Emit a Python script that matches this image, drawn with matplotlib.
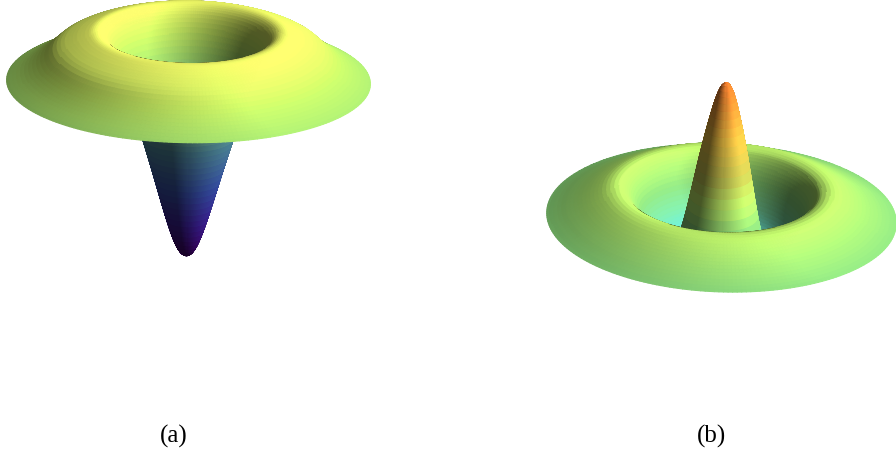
import numpy as np
import matplotlib
matplotlib.use("Agg")
import matplotlib.pyplot as plt
from matplotlib.colors import LinearSegmentedColormap

plt.rcParams['font.family'] = ['Liberation Serif']

#--------------- Data (radial profiles, image pixels) ---------------------
r_a = [0, 2, 4, 6, 8, 10, 12, 14, 16, 18, 20, 22, 24, 26, 28, 30, 32, 34, 36, 38, 40, 42, 44, 46, 48, 50,
       52, 54, 56, 58, 60, 62, 64, 66, 68, 70, 72, 74, 76, 78, 80, 82, 84, 86, 88, 90, 92, 94, 96, 98, 100,
       104, 108, 112, 116, 120, 124, 128, 132, 136, 140, 144, 148, 152, 156, 160, 164, 168, 172, 176, 180, 182]
z_a = [-184, -183.6, -182.4, -180.4, -177.6, -174, -169.6, -164.6, -159, -153, -146.6, -140, -133.2, -126.4,
       -119.4, -112.4, -105.4, -98.4, -91.4, -84.6, -77.8, -71, -64.4, -57.8, -51.2, -44.6,
       -38, -31.4, -24.8, -18, -11.2, -4.6, 2, 8.4, 14.6, 20.6, 26.2, 31.4, 36, 40, 43.4, 46, 48, 49.6,
       50.7, 51.4, 51.7, 51.8, 51.6, 51.2, 50.6,
       49.2, 47.8, 46.3, 44.6, 43, 41.2, 39, 36.5, 33, 29, 25.3, 21.8, 18.6, 15.6, 12.8, 10.2, 7.8, 5.5, 3.3, 1.1, 0]

r_b = [0, 2, 4, 6, 8, 10, 12, 14, 16, 18, 20, 22, 24, 26, 28, 30, 32, 34, 36, 38, 40, 42, 44, 46, 48, 50,
       52, 54, 56, 58, 60, 62, 64, 66, 68, 70, 72, 74, 76, 78, 80, 82, 84, 86, 88, 90, 92, 94, 96, 98, 100,
       104, 108, 112, 116, 120, 124, 128, 132, 136, 140, 144, 148, 152, 156, 160, 164, 168, 172, 175]
z_b = [149, 148.3, 146.1, 142.4, 137.4, 131, 123.6, 115.2, 106.6, 97.6, 88, 78, 68, 57, 46, 35, 24, 13, 3, -6.5,
       -14.5, -21, -26, -30, -33, -35,
       -36, -36.5, -36.2, -35.4, -34.2, -32.6, -30.6, -28.2, -25.4, -22.2, -18.6, -14.6, -10.4, -6, -1.5,
       3, 7.6, 12, 16, 19.6, 22.8, 25.6, 28, 29.4, 30.2,
       31, 30.8, 30, 28.6, 26.8, 24.8, 22.8, 20.7, 18.6, 16.5, 14.4, 12.4, 10.4, 8.4, 6.4, 4.6, 2.8, 1.1, 0]

# height stops of each surface colouring
stops_a = [-184, -150, -110, -63, -20, 0, 25, 52]
colors_a = ['#410069', '#3c1e96', '#3750aa', '#508ca0', '#96d796', '#a5e16e', '#c8f064', '#f5ff69']
stops_b = [-36, -20, 0, 30, 60, 100, 149]
colors_b = ['#69e1cd', '#7de1a5', '#8cdc7d', '#c3fa6e', '#cdcd55', '#fac846', '#ff8732']

labels = ['(a)', '(b)']
W, H = 896, 457
SIDE = 672
LIM = 200
LIGHT = np.array([0.75, -0.25, 0.6])


def draw_panel(fig, r, z, stops, colors, cx, cy, elev, roll):
    left = (cx - 0.5135 * SIDE) / W
    bottom = (H - cy - 0.5135 * SIDE) / H
    ax = fig.add_axes([left, bottom, SIDE / W, SIDE / H], projection='3d', proj_type='ortho')
    ax.set_box_aspect((1, 1, 1))
    ax.set_xlim(-LIM, LIM)
    ax.set_ylim(-LIM, LIM)
    ax.set_zlim(-LIM, LIM)
    ax.view_init(elev=elev, azim=-90, roll=roll)
    ax.set_axis_off()
    ax.patch.set_alpha(0)

    r = np.array(r, dtype=float)
    z = np.array(z, dtype=float)
    t = np.linspace(0, 2 * np.pi, 241)
    R, T = np.meshgrid(r, t, indexing='ij')
    Z = np.repeat(z[:, None], len(t), axis=1)
    dz = np.repeat(np.gradient(z, r)[:, None], len(t), axis=1)

    # two sided lighting
    n = np.stack([-dz * np.cos(T), -dz * np.sin(T), np.ones_like(T)], axis=-1)
    n /= np.linalg.norm(n, axis=-1, keepdims=True)
    e = np.radians(elev)
    view = np.array([0, -np.cos(e), np.sin(e)])
    flip = np.where((n @ view) < 0, -1.0, 1.0)
    shade = np.clip(0.5 + 0.72 * flip * (n @ LIGHT), 0.36, 1.08)

    pos = (np.array(stops) - stops[0]) / (stops[-1] - stops[0])
    cmap = LinearSegmentedColormap.from_list('h', list(zip(pos, colors)))
    rgb = cmap((Z - stops[0]) / (stops[-1] - stops[0]))
    rgb[..., :3] = np.clip(rgb[..., :3] * shade[..., None], 0, 1)

    ax.plot_surface(R * np.cos(T), R * np.sin(T), Z, facecolors=rgb, rstride=1, cstride=1,
                    shade=False, linewidth=0.8, antialiased=True)
    return ax


fig = plt.figure(figsize=(W / 100, H / 100), dpi=100)
draw_panel(fig, r_a, z_a, stops_a, colors_a, 188.5, 82, 19.5, -0.7)
draw_panel(fig, r_b, z_b, stops_b, colors_b, 721.5, 218, 25, -2.0)
fig.text(174 / W, 1 - 436.5 / H, labels[0], fontsize=18, ha='center', va='center')
fig.text(711 / W, 1 - 436.5 / H, labels[1], fontsize=18, ha='center', va='center')
fig.savefig('out.png', dpi=100)
